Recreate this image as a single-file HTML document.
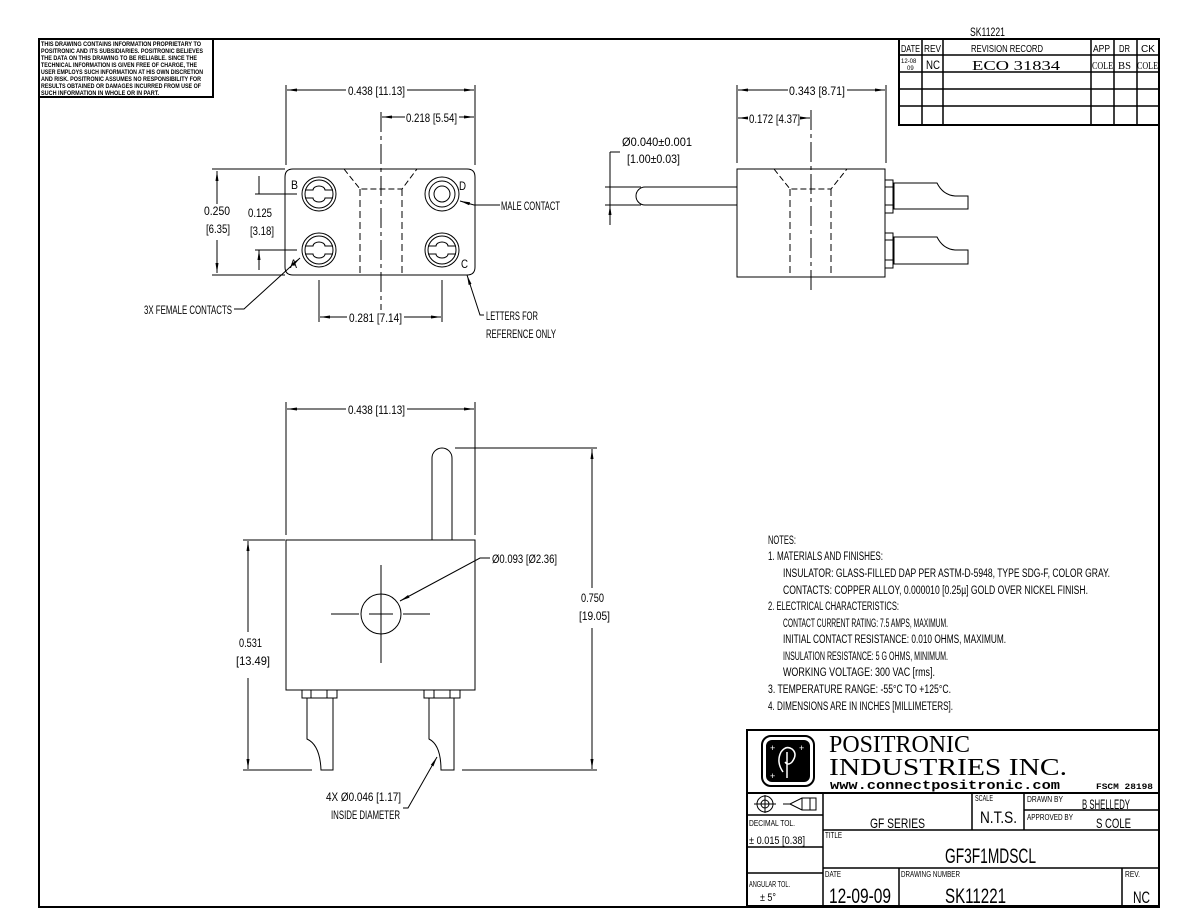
<!DOCTYPE html>
<html><head><meta charset="utf-8"><style>
html,body{margin:0;padding:0;background:#fff;}
svg{display:block}
text{font-family:"Liberation Sans",sans-serif;fill:#000}
</style></head><body>
<svg width="1188" height="918" viewBox="0 0 1188 918" xmlns="http://www.w3.org/2000/svg">
<defs>
<marker id="a" viewBox="0 0 10 4" refX="10" refY="2" markerWidth="10" markerHeight="4" orient="auto-start-reverse" markerUnits="userSpaceOnUse"><path d="M0,0.5L10,2L0,3.5z" fill="#000"/></marker>
</defs>
<g fill="none" stroke="#000" stroke-width="1">
<rect x="39" y="39" width="1120" height="868" stroke-width="2"/>
<rect x="39" y="39" width="174" height="58" stroke-width="2"/>
<rect x="899" y="39" width="260" height="86" stroke-width="2"/>
<path d="M899 55H1159M899 72H1159M899 89H1159M899 106H1159" stroke-width="1.5"/>
<path d="M922 39V125M943 39V125M1091 39V125M1114 39V125M1137 39V125" stroke-width="1.5"/>

<!-- TOP VIEW -->
<path d="M293 169H467Q475 169 475 177V267Q475 275 467 275H293Q285 275 285 267V177Q285 169 293 169Z"/>
<path d="M344 169L360 189H402L417 169" stroke-dasharray="6,3"/>
<path d="M360 189V275M402 189V275" stroke-dasharray="7,4"/>
<path d="M381 112V310" stroke-dasharray="20,4,4,4"/>
<circle cx="319" cy="194" r="17"/><circle cx="319" cy="250" r="17"/>
<circle cx="442" cy="250" r="17"/>
<circle cx="319" cy="194" r="14"/><circle cx="319" cy="250" r="14"/><circle cx="442" cy="250" r="14"/>
<path d="M305 190H313A6 4 0 0 1 325 190H333M305 198H313A6 4 0 0 0 325 198H333"/>
<path d="M305 246H313A6 4 0 0 1 325 246H333M305 254H313A6 4 0 0 0 325 254H333"/>
<path d="M428 246H436A6 4 0 0 1 448 246H456M428 254H436A6 4 0 0 0 448 254H456"/>
<circle cx="442" cy="194" r="17"/><circle cx="442" cy="194" r="13"/><circle cx="442" cy="194" r="8"/>
<path d="M286 85V165M475 85V165"/>
<path d="M287 90H346M407 90H474" marker-start="url(#a)" marker-end="url(#a)"/>
<path d="M382 117H405M459 117H474" marker-start="url(#a)" marker-end="url(#a)"/>
<path d="M212 169H285M212 275H285"/>
<path d="M217 171V204M217 240V273" marker-start="url(#a)" marker-end="url(#a)"/>
<path d="M255 194H297M255 250H297"/>
<path d="M259 176V194M259 270V250" marker-end="url(#a)"/>
<path d="M319 280V322M442 280V322"/>
<path d="M320 317H347M404 317H441" marker-start="url(#a)" marker-end="url(#a)"/>
<path d="M234 309H244L300 258" marker-end="url(#a)"/>
<path d="M500 205H474L460 201" marker-end="url(#a)"/>
<path d="M484 315H480L467 275" marker-end="url(#a)"/>

<!-- SIDE VIEW -->
<rect x="737" y="169" width="148" height="108"/>
<path d="M774 169L790 189H831L847 169" stroke-dasharray="6,3"/>
<path d="M790 189V277M831 189V277" stroke-dasharray="7,4"/>
<path d="M811 110V290" stroke-dasharray="20,4,4,4"/>
<path d="M737 187H645A9 9 0 0 0 645 205H737"/>
<path d="M605 187H641M605 205H641"/>
<rect x="885" y="180" width="8" height="33"/><path d="M885 187H893M885 205H893"/>
<rect x="885" y="233" width="8" height="35"/><path d="M885 240H893M885 260H893"/>
<path d="M894 183H937Q943 195 955 196H968V209H894Z"/>
<path d="M894 237H937Q943 249 955 250H968V264H894Z"/>
<path d="M737 85V163M886 85V163"/>
<path d="M738 90H788M847 90H885" marker-start="url(#a)" marker-end="url(#a)"/>
<path d="M738 118H746M802 118H810" marker-start="url(#a)" marker-end="url(#a)"/>
<path d="M610 152V225M610 152H620"/>
<path d="M610 178V187M610 214V205" marker-end="url(#a)"/>

<!-- FRONT VIEW -->
<rect x="286" y="540" width="189" height="150"/>
<path d="M432 540V458A10 10 0 0 1 452 458V540"/>
<circle cx="381" cy="614" r="20"/>
<path d="M381 565V663M331 614H359M403 614H430M369 614H393M381 602V626"/>
<rect x="302" y="690" width="35" height="8"/><path d="M311 690V698M327 690V698"/>
<rect x="424" y="690" width="36" height="8"/><path d="M434 690V698M450 690V698"/>
<path d="M307 698V739Q320 745 321 770H333V698Z"/>
<path d="M429 698V739Q441 745 441 770H454V698Z"/>
<path d="M286 402V535M475 402V535"/>
<path d="M287 409H346M407 409H474" marker-start="url(#a)" marker-end="url(#a)"/>
<path d="M243 540H285M243 770H312M462 770H597M455 448H597"/>
<path d="M248 541V632M248 678V769" marker-start="url(#a)" marker-end="url(#a)"/>
<path d="M592 449V588M592 628V769" marker-start="url(#a)" marker-end="url(#a)"/>
<path d="M490 558H480L400 601" marker-end="url(#a)"/>
<path d="M403 808H408L437 757" marker-end="url(#a)"/>

<!-- TITLE BLOCK -->
<rect x="747" y="730" width="412" height="176" stroke-width="2"/>
<path d="M747 793H1159" stroke-width="2"/>
<path d="M823 793V906M747 815H823M747 847H823M747 873H823" stroke-width="1.5"/>
<path d="M972 793V830M1024 793V830M1024 810H1159M823 830H1159M823 868H1159M899 868V906M1122 868V906" stroke-width="1.5"/>
<rect x="762" y="736" width="52" height="50" rx="9" stroke-width="2"/>
<circle cx="765" cy="804" r="8"/><circle cx="765" cy="804" r="4"/><path d="M754 804H776M765 795V813"/>
<path d="M783 804H790L802 798H816V810H802L790 804M802 798V810M810 798V810"/>
</g>
<rect x="766" y="740" width="44" height="42" rx="6" fill="#000"/>
<path d="M783 772Q776 762 781 752Q786 745 792 749Q798 754 792 762Q788 766 785 762M787 752V778" fill="none" stroke="#fff" stroke-width="1.5"/>
<text x="770" y="751" font-size="9" style="fill:#fff">+</text><text x="799" y="751" font-size="9" style="fill:#fff">+</text><text x="770" y="779" font-size="9" style="fill:#fff">+</text>

<g font-size="12" lengthAdjust="spacingAndGlyphs">
<text x="970" y="36" textLength="35" lengthAdjust="spacingAndGlyphs">SK11221</text>
<text x="901" y="52" font-size="10" textLength="19" lengthAdjust="spacingAndGlyphs">DATE</text>
<text x="924" y="52" font-size="10" textLength="17" lengthAdjust="spacingAndGlyphs">REV</text>
<text x="971" y="52" font-size="10" textLength="72" lengthAdjust="spacingAndGlyphs">REVISION RECORD</text>
<text x="1093" y="52" font-size="10" textLength="17" lengthAdjust="spacingAndGlyphs">APP</text>
<text x="1119" y="52" font-size="10" textLength="11" lengthAdjust="spacingAndGlyphs">DR</text>
<text x="1141" y="52" font-size="10" textLength="14" lengthAdjust="spacingAndGlyphs">CK</text>
<text x="901" y="63" font-size="6">12-08</text><text x="907" y="70" font-size="6">09</text>
<text x="926" y="69" textLength="14" lengthAdjust="spacingAndGlyphs">NC</text>
<text x="972" y="70" font-size="14" style="font-family:'Liberation Serif',serif" textLength="88" lengthAdjust="spacingAndGlyphs">ECO  31834</text>
<text x="1092" y="69" font-size="11" style="font-family:'Liberation Serif',serif" textLength="21" lengthAdjust="spacingAndGlyphs">COLE</text>
<text x="1118" y="69" font-size="11" style="font-family:'Liberation Serif',serif" textLength="13" lengthAdjust="spacingAndGlyphs">BS</text>
<text x="1137" y="69" font-size="11" style="font-family:'Liberation Serif',serif" textLength="21" lengthAdjust="spacingAndGlyphs">COLE</text>

<g font-size="6" font-weight="bold">
<text x="41" y="46" textLength="160" lengthAdjust="spacingAndGlyphs">THIS DRAWING CONTAINS INFORMATION PROPRIETARY TO</text>
<text x="41" y="53" textLength="162" lengthAdjust="spacingAndGlyphs">POSITRONIC AND ITS SUBSIDIARIES. POSITRONIC BELIEVES</text>
<text x="41" y="60" textLength="156" lengthAdjust="spacingAndGlyphs">THE DATA ON THIS DRAWING TO BE RELIABLE. SINCE THE</text>
<text x="41" y="67" textLength="156" lengthAdjust="spacingAndGlyphs">TECHNICAL INFORMATION IS GIVEN FREE OF CHARGE, THE</text>
<text x="41" y="74" textLength="162" lengthAdjust="spacingAndGlyphs">USER EMPLOYS SUCH INFORMATION AT HIS OWN DISCRETION</text>
<text x="41" y="81" textLength="160" lengthAdjust="spacingAndGlyphs">AND RISK. POSITRONIC ASSUMES NO RESPONSIBILITY FOR</text>
<text x="41" y="88" textLength="160" lengthAdjust="spacingAndGlyphs">RESULTS OBTAINED OR DAMAGES INCURRED FROM USE OF</text>
<text x="41" y="95" textLength="118" lengthAdjust="spacingAndGlyphs">SUCH INFORMATION IN WHOLE OR IN PART.</text>
</g>

<text x="348" y="95" textLength="57" lengthAdjust="spacingAndGlyphs">0.438 [11.13]</text>
<text x="406" y="122" textLength="51" lengthAdjust="spacingAndGlyphs">0.218 [5.54]</text>
<text x="204" y="215" textLength="26" lengthAdjust="spacingAndGlyphs">0.250</text>
<text x="206" y="233" textLength="24" lengthAdjust="spacingAndGlyphs">[6.35]</text>
<text x="248" y="217" textLength="24" lengthAdjust="spacingAndGlyphs">0.125</text>
<text x="250" y="235" textLength="24" lengthAdjust="spacingAndGlyphs">[3.18]</text>
<text x="291" y="189" textLength="7" lengthAdjust="spacingAndGlyphs">B</text>
<text x="459" y="190" textLength="7" lengthAdjust="spacingAndGlyphs">D</text>
<text x="290" y="268" textLength="7" lengthAdjust="spacingAndGlyphs">A</text>
<text x="461" y="268" textLength="7" lengthAdjust="spacingAndGlyphs">C</text>
<text x="501" y="210" textLength="59" lengthAdjust="spacingAndGlyphs">MALE CONTACT</text>
<text x="144" y="314" textLength="88" lengthAdjust="spacingAndGlyphs">3X FEMALE CONTACTS</text>
<text x="349" y="322" textLength="53" lengthAdjust="spacingAndGlyphs">0.281 [7.14]</text>
<text x="486" y="320" textLength="52" lengthAdjust="spacingAndGlyphs">LETTERS FOR</text>
<text x="486" y="338" textLength="70" lengthAdjust="spacingAndGlyphs">REFERENCE ONLY</text>

<text x="789" y="95" textLength="56" lengthAdjust="spacingAndGlyphs">0.343 [8.71]</text>
<text x="749" y="123" textLength="51" lengthAdjust="spacingAndGlyphs">0.172 [4.37]</text>
<text x="622" y="146" textLength="70" lengthAdjust="spacingAndGlyphs">Ø0.040±0.001</text>
<text x="627" y="163" textLength="53" lengthAdjust="spacingAndGlyphs">[1.00±0.03]</text>

<text x="348" y="414" textLength="57" lengthAdjust="spacingAndGlyphs">0.438 [11.13]</text>
<text x="492" y="563" textLength="65" lengthAdjust="spacingAndGlyphs">Ø0.093 [Ø2.36]</text>
<text x="581" y="602" textLength="23" lengthAdjust="spacingAndGlyphs">0.750</text>
<text x="579" y="620" textLength="31" lengthAdjust="spacingAndGlyphs">[19.05]</text>
<text x="239" y="647" textLength="23" lengthAdjust="spacingAndGlyphs">0.531</text>
<text x="236" y="665" textLength="34" lengthAdjust="spacingAndGlyphs">[13.49]</text>
<text x="326" y="801" textLength="75" lengthAdjust="spacingAndGlyphs">4X Ø0.046 [1.17]</text>
<text x="331" y="819" textLength="69" lengthAdjust="spacingAndGlyphs">INSIDE DIAMETER</text>

<g font-size="11.5">
<text x="768" y="544" textLength="28" lengthAdjust="spacingAndGlyphs">NOTES:</text>
<text x="768" y="560" textLength="115" lengthAdjust="spacingAndGlyphs">1. MATERIALS AND FINISHES:</text>
<text x="783" y="577" textLength="327" lengthAdjust="spacingAndGlyphs">INSULATOR:  GLASS-FILLED DAP PER ASTM-D-5948, TYPE SDG-F, COLOR GRAY.</text>
<text x="783" y="594" textLength="305" lengthAdjust="spacingAndGlyphs">CONTACTS:  COPPER ALLOY, 0.000010 [0.25µ] GOLD OVER NICKEL FINISH.</text>
<text x="768" y="610" textLength="131" lengthAdjust="spacingAndGlyphs">2. ELECTRICAL CHARACTERISTICS:</text>
<text x="783" y="627" textLength="165" lengthAdjust="spacingAndGlyphs">CONTACT CURRENT RATING:  7.5 AMPS, MAXIMUM.</text>
<text x="783" y="643" textLength="223" lengthAdjust="spacingAndGlyphs">INITIAL CONTACT RESISTANCE:  0.010 OHMS, MAXIMUM.</text>
<text x="783" y="660" textLength="165" lengthAdjust="spacingAndGlyphs">INSULATION RESISTANCE:  5 G OHMS, MINIMUM.</text>
<text x="783" y="676" textLength="152" lengthAdjust="spacingAndGlyphs">WORKING VOLTAGE:  300 VAC [rms].</text>
<text x="768" y="693" textLength="183" lengthAdjust="spacingAndGlyphs">3. TEMPERATURE RANGE:  -55°C TO +125°C.</text>
<text x="768" y="710" textLength="185" lengthAdjust="spacingAndGlyphs">4. DIMENSIONS ARE IN INCHES [MILLIMETERS].</text>
</g>

<text x="829" y="752" font-size="24" style="font-family:'Liberation Serif',serif" textLength="141" lengthAdjust="spacingAndGlyphs">POSITRONIC</text>
<text x="829" y="775" font-size="24" style="font-family:'Liberation Serif',serif" textLength="238" lengthAdjust="spacingAndGlyphs">INDUSTRIES INC.</text>
<text x="830" y="789" font-size="13" font-weight="bold" style="font-family:'Liberation Mono',monospace" textLength="230" lengthAdjust="spacingAndGlyphs">www.connectpositronic.com</text>
<text x="1096" y="789" font-size="8" font-weight="bold" style="font-family:'Liberation Mono',monospace" textLength="57" lengthAdjust="spacingAndGlyphs">FSCM 28198</text>

<text x="749" y="826" font-size="8" textLength="46" lengthAdjust="spacingAndGlyphs">DECIMAL TOL.</text>
<text x="749" y="844" font-size="11" textLength="56" lengthAdjust="spacingAndGlyphs">± 0.015 [0.38]</text>
<text x="749" y="887" font-size="8" textLength="41" lengthAdjust="spacingAndGlyphs">ANGULAR TOL.</text>
<text x="760" y="901" font-size="11" textLength="16" lengthAdjust="spacingAndGlyphs">± 5°</text>
<text x="870" y="828" font-size="14" textLength="55" lengthAdjust="spacingAndGlyphs">GF SERIES</text>
<text x="975" y="801" font-size="8" textLength="18" lengthAdjust="spacingAndGlyphs">SCALE</text>
<text x="980" y="823" font-size="17" textLength="37" lengthAdjust="spacingAndGlyphs">N.T.S.</text>
<text x="1027" y="802" font-size="8" textLength="36" lengthAdjust="spacingAndGlyphs">DRAWN BY</text>
<text x="1082" y="809" font-size="14" textLength="48" lengthAdjust="spacingAndGlyphs">B SHELLEDY</text>
<text x="1027" y="820" font-size="8" textLength="46" lengthAdjust="spacingAndGlyphs">APPROVED BY</text>
<text x="1096" y="828" font-size="14" textLength="35" lengthAdjust="spacingAndGlyphs">S COLE</text>
<text x="825" y="838" font-size="8" textLength="17" lengthAdjust="spacingAndGlyphs">TITLE</text>
<text x="945" y="863" font-size="21" textLength="91" lengthAdjust="spacingAndGlyphs">GF3F1MDSCL</text>
<text x="825" y="877" font-size="8" textLength="16" lengthAdjust="spacingAndGlyphs">DATE</text>
<text x="829" y="903" font-size="21" textLength="62" lengthAdjust="spacingAndGlyphs">12-09-09</text>
<text x="901" y="877" font-size="8" textLength="59" lengthAdjust="spacingAndGlyphs">DRAWING NUMBER</text>
<text x="945" y="903" font-size="21" textLength="61" lengthAdjust="spacingAndGlyphs">SK11221</text>
<text x="1125" y="877" font-size="8" textLength="15" lengthAdjust="spacingAndGlyphs">REV.</text>
<text x="1133" y="903" font-size="17" textLength="17" lengthAdjust="spacingAndGlyphs">NC</text>
</g>
</svg>
</body></html>
